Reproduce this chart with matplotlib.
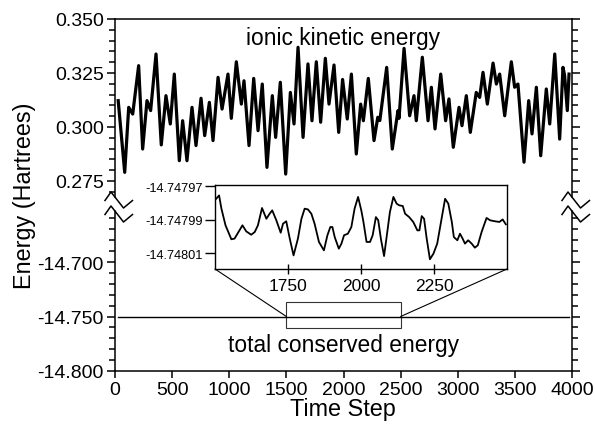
#-----------------------------------------------------------------------------------------------------#

import numpy as np
import matplotlib
matplotlib.use('Agg')
import matplotlib.pyplot as plt
from matplotlib.lines import Line2D
from matplotlib.patches import Rectangle, ConnectionPatch
from matplotlib.ticker import FixedLocator, MultipleLocator, FormatStrFormatter

#-----------------------------------------------------------------------------------------------------#

# ionic kinetic energy (Hartrees) vs time step, read at peaks / troughs
kin_t = [28, 85, 120, 155, 207, 242, 280, 312, 359, 405, 446, 484, 519, 563, 592, 630, 674, 709,
         753, 785, 826, 858, 902, 937, 989, 1018, 1062, 1106, 1129, 1173, 1214, 1252, 1289, 1330,
         1377, 1406, 1447, 1494, 1535, 1567, 1602, 1646, 1689, 1724, 1762, 1800, 1841, 1873, 1917,
         1958, 1992, 2033, 2069, 2112, 2150, 2174, 2217, 2267, 2300, 2318, 2378, 2427, 2477, 2486,
         2530, 2579, 2617, 2637, 2690, 2740, 2769, 2801, 2851, 2894, 2923, 2961, 3011, 3037, 3075,
         3110, 3162, 3192, 3221, 3259, 3309, 3338, 3367, 3411, 3469, 3498, 3527, 3580, 3621, 3650,
         3688, 3726, 3775, 3805, 3849, 3892, 3921, 3935, 3959, 3974]
kin_e = [0.3122, 0.2790, 0.3091, 0.3060, 0.3284, 0.2898, 0.3122, 0.3076, 0.3338, 0.2917, 0.3145,
         0.3014, 0.3245, 0.2844, 0.3029, 0.2844, 0.3091, 0.2914, 0.3133, 0.2960, 0.3114, 0.2937,
         0.3230, 0.3083, 0.3245, 0.3040, 0.3302, 0.3106, 0.3214, 0.2914, 0.3225, 0.2983, 0.3199,
         0.2813, 0.3145, 0.2952, 0.3207, 0.2782, 0.3160, 0.3014, 0.3369, 0.2952, 0.3292, 0.3029,
         0.3302, 0.3022, 0.3318, 0.3106, 0.3287, 0.2975, 0.3220, 0.3037, 0.3245, 0.2875, 0.3106,
         0.3029, 0.3225, 0.2937, 0.3045, 0.3030, 0.3276, 0.2898, 0.3076, 0.3040, 0.3364, 0.3052,
         0.3145, 0.3029, 0.3323, 0.3029, 0.3184, 0.2991, 0.3245, 0.3029, 0.3130, 0.2906, 0.3091,
         0.3006, 0.3145, 0.2975, 0.3160, 0.3137, 0.3253, 0.3106, 0.3296, 0.3199, 0.3245, 0.3052,
         0.3302, 0.3184, 0.3199, 0.2837, 0.3122, 0.2968, 0.3184, 0.2867, 0.3176, 0.3014, 0.3338,
         0.2944, 0.3276, 0.3240, 0.3076, 0.3245]

# total conserved energy on the main scale
total_t = [28, 3974]
total_e = [-14.750, -14.750]

# inset: total energy, in units of 1e-5 Hartree above -14.748
zoom_t = [1504, 1514, 1522, 1536, 1556, 1567, 1594, 1607, 1624, 1636, 1647, 1661, 1676, 1687, 1696,
          1710, 1725, 1733, 1744, 1756, 1769, 1784, 1796, 1807, 1818, 1830, 1841, 1856, 1873, 1885,
          1895, 1902, 1910, 1924, 1933, 1942, 1955, 1967, 1978, 1990, 2001, 2008, 2019, 2031, 2040,
          2051, 2059, 2068, 2079, 2090, 2099, 2111, 2122, 2131, 2143, 2151, 2165, 2179, 2193, 2200,
          2208, 2216, 2225, 2236, 2248, 2261, 2274, 2288, 2299, 2311, 2318, 2330, 2339, 2348, 2356,
          2367, 2379, 2390, 2400, 2413, 2430, 2442, 2459, 2474, 2485, 2496]
zoom_v = [2.24, 2.44, 1.65, 0.66, -0.17, -0.13, 0.66, 0.30, 0.10, 0.26, 0.66, 1.69, 1.05, 1.35, 1.55,
          0.96, 0.22, 0.76, 0.90, -0.13, -1.13, -0.13, 1.05, 1.65, 1.61, 1.35, 0.76, -0.33, -0.83, 0.07,
          0.56, 0.56, -0.04, -0.73, -0.43, 0.07, 0.16, 0.56, 1.65, 2.35, 1.55, 0.90, -0.33, -0.33, 0.07,
          1.15, 0.96, -0.13, -1.17, 0.26, 1.45, 2.35, 1.95, 1.85, 1.81, 1.35, 1.15, 0.86, 0.36, 0.36,
          1.21, 1.05, -0.13, -1.36, -1.03, -0.43, 0.86, 2.24, 1.95, 0.86, -0.04, -0.23, 0.16, -0.13, -0.43,
          -0.23, -0.43, -0.67, -0.53, 0.26, 1.10, 0.96, 0.90, 0.86, 1.01, 0.72]
zoom_base = -14.748

kin_ticks = [0.275, 0.300, 0.325, 0.350]
tot_ticks = [-14.800, -14.750, -14.700]
zoom_yticks = [-14.74801, -14.74799, -14.74797]
zoom_xticks = [1750, 2000, 2250]

#-----------------------------------------------------------------------------------------------------#

plt.rcParams['font.family'] = ['Liberation Sans', 'DejaVu Sans']
plt.rcParams['axes.unicode_minus'] = False
plt.rcParams['axes.linewidth'] = 1.1

W, H = 595, 427
fig = plt.figure(figsize=(W / 100, H / 100), dpi=100)

def fig_box(left, top, right, bottom):
    # pixel box -> figure fraction rect
    return [left / W, 1 - bottom / H, (right - left) / W, (bottom - top) / H]

ax1 = fig.add_axes(fig_box(115, 20, 572, 198))
ax2 = fig.add_axes(fig_box(115, 212, 572, 372))
axin = fig.add_axes(fig_box(215, 185.5, 507, 270))

#-----------------------------------------------------------------------------------------------------#

# upper panel: kinetic energy
ax1.plot(kin_t, kin_e, color='black', lw=2.3, solid_joinstyle='round')
ax1.set_xlim(0, 4000)
ax1.set_ylim(0.26759, 0.350)
ax1.spines['bottom'].set_visible(False)
ax1.tick_params(axis='x', which='both', bottom=False, labelbottom=False)
ax1.yaxis.set_major_locator(FixedLocator(kin_ticks))
ax1.yaxis.set_minor_locator(MultipleLocator(0.005))
ax1.yaxis.set_major_formatter(FormatStrFormatter('%.3f'))
ax1.tick_params(axis='y', which='both', right=True, direction='out', labelsize=14, pad=2)
ax1.tick_params(axis='y', which='major', length=6, width=1.1)
ax1.tick_params(axis='y', which='minor', length=4, width=1.1)
ax1.text(0.5, 0.897, 'ionic kinetic energy', transform=ax1.transAxes,
         ha='center', va='center', fontsize=16.4)

#-----------------------------------------------------------------------------------------------------#

# lower panel: total energy
ax2.plot(total_t, total_e, color='black', lw=1.0)
ax2.set_xlim(0, 4000)
ax2.set_ylim(-14.800, -14.65321)
ax2.spines['top'].set_visible(False)
ax2.yaxis.set_major_locator(FixedLocator(tot_ticks))
ax2.yaxis.set_minor_locator(MultipleLocator(0.01))
ax2.yaxis.set_major_formatter(FormatStrFormatter('%.3f'))
ax2.xaxis.set_major_locator(MultipleLocator(500))
ax2.tick_params(axis='y', which='both', right=True, direction='out', labelsize=14, pad=2)
ax2.tick_params(axis='y', which='major', length=6, width=1.1)
ax2.tick_params(axis='y', which='minor', length=4, width=1.1)
ax2.tick_params(axis='x', which='major', direction='out', length=5, width=1.1, labelsize=14, pad=2)
ax2.text(2000, -14.7757, 'total conserved energy', ha='center', va='center', fontsize=16.4)

# zoom box on the flat line
ax2.add_patch(Rectangle((1500, -14.761), 1000, 0.024, fill=False, edgecolor='#333333', lw=0.8))

#-----------------------------------------------------------------------------------------------------#

# inset
axin.plot(zoom_t, [zoom_base + v * 1e-5 for v in zoom_v], color='black', lw=1.3)
axin.set_xlim(1500, 2500)
axin.set_ylim(zoom_base - 1.94e-5, zoom_base + 3.09e-5)
axin.set_facecolor('white')
axin.xaxis.set_major_locator(FixedLocator(zoom_xticks))
axin.yaxis.set_major_locator(FixedLocator(zoom_yticks))
axin.yaxis.set_major_formatter(FormatStrFormatter('%.5f'))
axin.tick_params(axis='y', which='major', direction='out', length=7, width=1.0, labelsize=9.2, pad=2)
axin.tick_params(axis='x', which='major', direction='inout', length=7, width=1.0, labelsize=12.5, pad=3)
for s in axin.spines.values():
    s.set_linewidth(1.0)

for xa, xb in [(1500, 0), (2500, 1)]:
    con = ConnectionPatch(xyA=(xa, -14.750), coordsA=ax2.transData,
                          xyB=(xb, 0), coordsB=axin.transAxes, color='black', lw=0.8)
    fig.add_artist(con)

#-----------------------------------------------------------------------------------------------------#

# axis break marks
def break_mark(x_px, y_px):
    xs = [x_px - 10, x_px - 4, x_px + 8.5, x_px + 17.5]
    ys = [y_px + 8.5, y_px, y_px + 16, y_px + 8.5]
    fig.add_artist(Line2D([x / W for x in xs], [1 - y / H for y in ys],
                          transform=fig.transFigure, color='black', lw=1.1))

for sx in [115, 572]:
    break_mark(sx, 193)
    break_mark(sx, 207)

fig.text(25 / W, 1 - 196 / H, 'Energy (Hartrees)', rotation=90, ha='center', va='center', fontsize=16.8)
fig.text(343 / W, 1 - 410 / H, 'Time Step', ha='center', va='center', fontsize=16.8)

fig.savefig('out.png', dpi=100)

#-----------------------------------------------------------------------------------------------------#
